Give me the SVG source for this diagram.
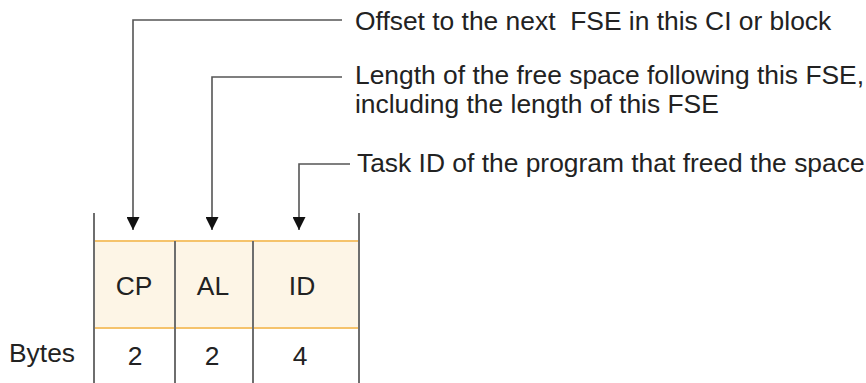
<svg xmlns="http://www.w3.org/2000/svg" width="866" height="383" viewBox="0 0 866 383">
  <style>
    text { font-family: "Liberation Sans", Arial, Helvetica, sans-serif; font-size: 26.4px; fill: #222; }
    .conn { fill: none; stroke: #555; stroke-width: 1.6; }
    .wall { stroke: #6e6e6e; stroke-width: 2; }
    .edge { stroke: #f5c36c; stroke-width: 2; }
    .mid { text-anchor: middle; }
  </style>
  <defs>
    <marker id="arrow" markerWidth="13" markerHeight="13" refX="13" refY="6.5" orient="auto" markerUnits="userSpaceOnUse">
      <path d="M0,0 L13,6.5 L0,13 Z" fill="#111"/>
    </marker>
  </defs>

  <g id="record">
    <rect x="94" y="241" width="265" height="87" fill="#fdf5e6"/>
    <line class="edge" x1="94" y1="241" x2="359" y2="241"/>
    <line class="edge" x1="94" y1="328" x2="359" y2="328"/>
    <line class="wall" x1="94" y1="213" x2="94" y2="383"/>
    <line class="wall" x1="359" y1="213" x2="359" y2="383"/>
    <line class="wall" x1="175" y1="241" x2="175" y2="383"/>
    <line class="wall" x1="253" y1="241" x2="253" y2="383"/>
  </g>

  <g id="field-cp">
    <text class="mid" x="134" y="295">CP</text>
    <text class="mid" x="135" y="365">2</text>
  </g>
  <g id="field-al">
    <text class="mid" x="213" y="295">AL</text>
    <text class="mid" x="212" y="365">2</text>
  </g>
  <g id="field-id">
    <text class="mid" x="302" y="295">ID</text>
    <text class="mid" x="300" y="365">4</text>
  </g>
  <g id="bytes-label">
    <text x="9" y="362">Bytes</text>
  </g>

  <g id="label-cp">
    <text x="355" y="30" xml:space="preserve">Offset to the next  FSE in this CI or block</text>
  </g>
  <g id="label-al">
    <text x="355" y="84">Length of the free space following this FSE,</text>
    <text x="355" y="113">including the length of this FSE</text>
  </g>
  <g id="label-id">
    <text x="357" y="172">Task ID of the program that freed the space</text>
  </g>

  <g id="connectors">
    <path class="conn" d="M342,20 H133 V230" marker-end="url(#arrow)"/>
    <path class="conn" d="M342,77 H212 V230" marker-end="url(#arrow)"/>
    <path class="conn" d="M350,164 H299 V230" marker-end="url(#arrow)"/>
  </g>
</svg>
